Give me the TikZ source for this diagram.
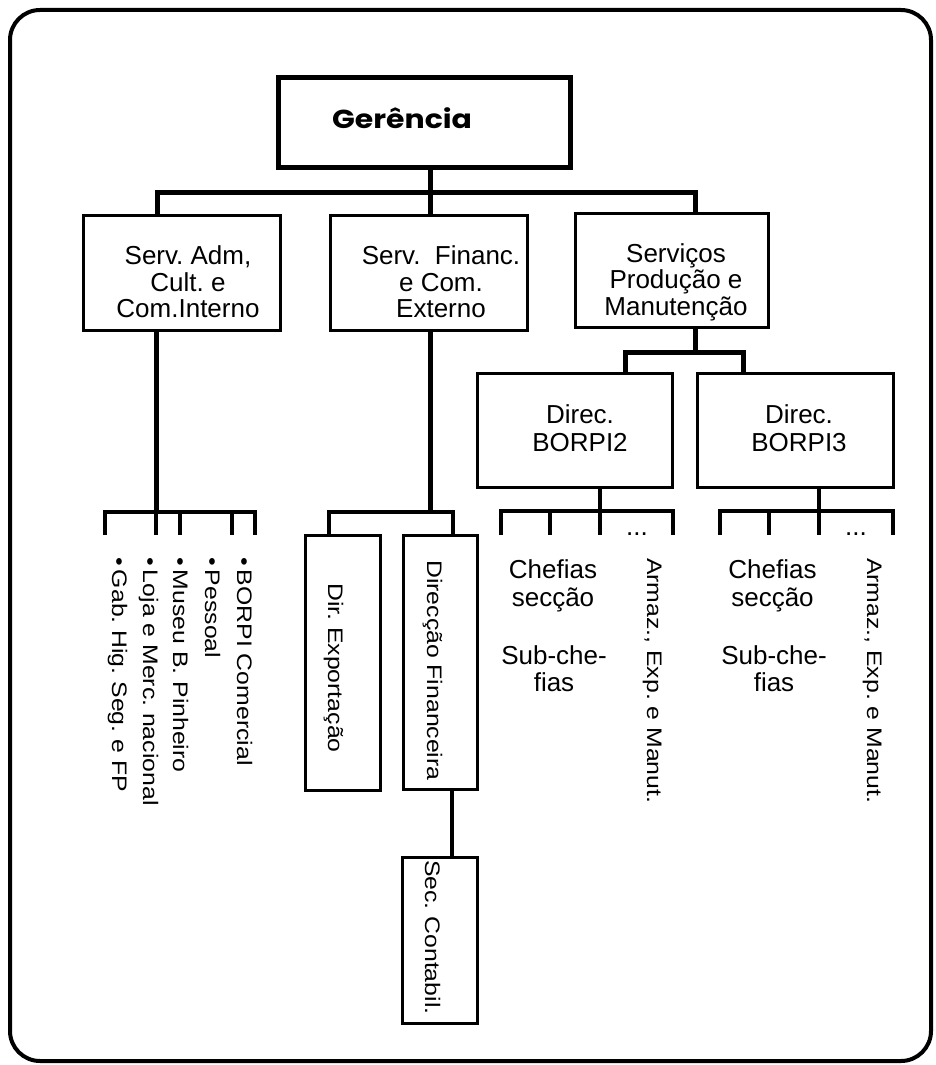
\documentclass[tikz,border=0pt]{standalone}
\usepackage{fontspec}
\usepackage{graphicx}
\setmainfont{Liberation Sans}
\newfontfamily\gerfont{Poppins}
\newcommand{\rtext}[1]{\scalebox{1.18}[1]{#1}}
\begin{document}
\frenchspacing
\begin{tikzpicture}[x=1pt,y=-1pt,
  box/.style={draw, line width=3pt, inner sep=0pt, outer sep=0pt},
  lbl/.style={inner sep=0pt, align=center, font=\fontsize{26}{26.5}\selectfont},
  rtxt/.style={rotate=-90, anchor=base west, inner sep=0pt, font=\fontsize{21}{25}\selectfont},
  bus/.style={line width=5pt},
  twig/.style={line width=3.2pt},
]
\useasboundingbox (0,0) rectangle (936,1065);
% outer frame
\draw[line width=4pt, rounded corners=30pt] (10,10) rectangle (931,1061);

% boxes
\node[box, line width=5pt, minimum width=292, minimum height=90] (ger) at (424,122) {};
\node[anchor=base west, inner sep=0pt, font=\gerfont\bfseries\fontsize{26}{26}\selectfont] (gert) at (332,128) {\scalebox{1.15}[1]{Gerência}};

\node[box, minimum width=197, minimum height=115] (a) at (181.5,272.5) {};
\node[box, minimum width=197, minimum height=115] (b) at (428.5,272.5) {};
\node[box, minimum width=193, minimum height=114] (c) at (671.5,270) {};
\node[lbl] (at) at (188,282) {Serv. Adm,\\Cult. e\\Com.Interno};
\node[lbl] (bt) at (441,282) {Serv.\ \ Financ.\\e Com.\\Externo};
\node[lbl] (ct) at (676,282) {Serviços\\Produção e\\Manutenção};

\node[box, minimum width=195, minimum height=114] (d) at (574.5,430) {};
\node[box, minimum width=196, minimum height=114] (e) at (795,430) {};
\node[lbl, font=\fontsize{26}{28.4}\selectfont] (dt) at (580,428) {Direc.\\BORPI2};
\node[lbl, font=\fontsize{26}{28.4}\selectfont] (et) at (799,428) {Direc.\\BORPI3};

\node[box, minimum width=75, minimum height=255] (dx) at (342.5,662.5) {};
\node[box, minimum width=74, minimum height=254] (df) at (440,662) {};
\node[box, minimum width=75, minimum height=166] (sc) at (439.5,940) {};
\node[rtxt] (dxt) at (328,583) {\rtext{Dir. Exportação}};
\node[rtxt] (dft) at (427,560) {\rtext{Direcção Financeira}};
\node[rtxt] (sct) at (425,860) {\rtext{Sec. Contabil.}};

% list under the first service
\node[rtxt] (l1) at (112,557) {\rtext{•\,Gab. Hig. Seg. e FP}};
\node[rtxt] (l2) at (143,557) {\rtext{•\,Loja e Merc. nacional}};
\node[rtxt] (l3) at (173,557) {\rtext{•\,Museu B. Pinheiro}};
\node[rtxt] (l4) at (205,557) {\rtext{•\,Pessoal}};
\node[rtxt] (l5) at (237,557) {\rtext{•\,BORPI Comercial}};

% sections under each direction
\node[lbl, font=\fontsize{26}{28}\selectfont] (dch) at (553,586) {Chefias\\secção};
\node[lbl, font=\fontsize{26}{27}\selectfont] (dsub) at (554,669) {Sub-che-\\fias};
\node[rtxt] (darm) at (647,558) {\rtext{Armaz., Exp. e Manut.}};
\node[anchor=base, inner sep=0pt, font=\fontsize{26}{26}\selectfont] (ddots) at (637,535) {...};

\node[lbl, font=\fontsize{26}{28}\selectfont] (ech) at (772.5,586) {Chefias\\secção};
\node[lbl, font=\fontsize{26}{27}\selectfont] (esub) at (774,669) {Sub-che-\\fias};
\node[rtxt] (earm) at (867,558) {\rtext{Armaz., Exp. e Manut.}};
\node[anchor=base, inner sep=0pt, font=\fontsize{26}{26}\selectfont] (edots) at (856,535) {...};

% junction points
\coordinate (j0) at (430,192);
\coordinate (ja) at (157,192);
\coordinate (jc) at (695.5,192);
\coordinate (jp) at (695.5,352);
\coordinate (jd) at (625,352);
\coordinate (je) at (743,352);

% top level connectors
\draw[bus] (ger.south -| j0) -- (j0);
\draw[bus] (a.north -| ja) -- (ja) -- (jc) -- (c.north -| jc);
\draw[bus] (j0) -- (b.north -| j0);
% production services to its directions
\draw[bus] (c.south -| jp) -- (jp);
\draw[bus] (d.north -| jd) -- (jd) -- (je) -- (e.north -| je);

% list branch
\coordinate (la) at (156,512);
\coordinate (la1) at (105,512);
\coordinate (la5) at (255,512);
\draw[bus] (a.south -| la) -- (la);
\draw[twig] (la1 |- 0,535) -- (la1) -- (la5) -- (la5 |- 0,535);
\draw[twig] (la) -- (la |- 0,535);
\draw[twig] (180,512) -- (180,535);
\draw[twig] (232,512) -- (232,535);

% financial branch
\coordinate (lb) at (430,512);
\coordinate (lb1) at (329,512);
\coordinate (lb2) at (453,512);
\draw[bus] (b.south -| lb) -- (lb);
\draw[twig] (dx.north -| lb1) -- (lb1) -- (lb2) -- (df.north -| lb2);
\draw[line width=4pt] (df.south -| 452,0) -- (sc.north -| 452,0);

% direction BORPI2 branch
\coordinate (ld) at (600,511);
\coordinate (ld1) at (501,511);
\coordinate (ld4) at (673,511);
\draw[twig] (d.south -| ld) -- (ld) -- (ld |- 0,535);
\draw[twig] (ld1 |- 0,535) -- (ld1) -- (ld4) -- (ld4 |- 0,535);
\draw[twig] (550,511) -- (550,535);

% direction BORPI3 branch
\coordinate (le) at (819,511);
\coordinate (le1) at (720,511);
\coordinate (le4) at (893,511);
\draw[twig] (e.south -| le) -- (le) -- (le |- 0,535);
\draw[twig] (le1 |- 0,535) -- (le1) -- (le4) -- (le4 |- 0,535);
\draw[twig] (769,511) -- (769,535);
\end{tikzpicture}
\end{document}
